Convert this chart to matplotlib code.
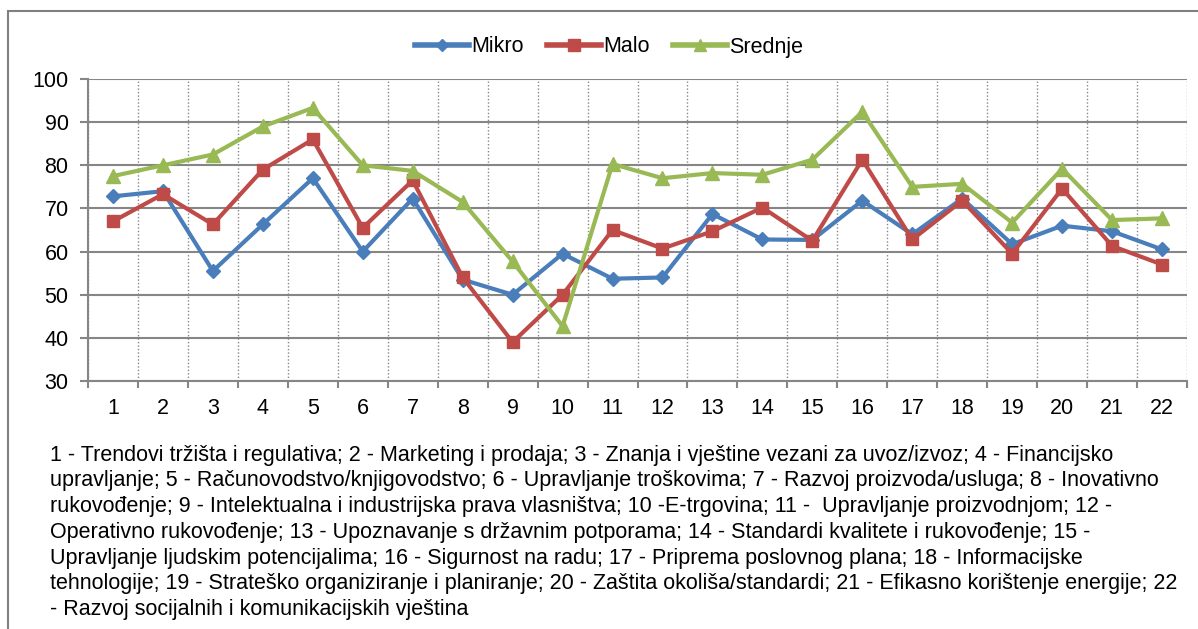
import matplotlib.pyplot as plt
from matplotlib.lines import Line2D
from matplotlib.patches import Rectangle

plt.rcParams['font.family'] = ['Liberation Sans', 'DejaVu Sans']

categories = list(range(1, 23))
mikro = [72.8, 74.0, 55.5, 66.3, 77.0, 60.0, 72.3, 53.5, 50.0, 59.5, 53.7,
         54.0, 68.7, 62.8, 62.7, 71.8, 64.0, 72.3, 61.7, 66.0, 64.7, 60.5]
malo = [67.0, 73.3, 66.3, 79.0, 86.0, 65.5, 76.5, 54.0, 39.0, 50.0, 65.0,
        60.7, 64.7, 70.2, 62.5, 81.3, 62.8, 71.8, 59.5, 74.6, 61.3, 57.0]
srednje = [77.5, 80.0, 82.5, 89.0, 93.3, 80.0, 78.7, 71.5, 57.7, 42.7, 80.3,
           77.0, 78.2, 77.8, 81.3, 92.4, 75.0, 75.7, 66.7, 79.2, 67.3, 67.7]

notes = [
    "1 - Trendovi tržišta i regulativa; 2 - Marketing i prodaja; 3 - Znanja i vještine vezani za uvoz/izvoz; 4 - Financijsko",
    "upravljanje; 5 - Računovodstvo/knjigovodstvo; 6 - Upravljanje troškovima; 7 - Razvoj proizvoda/usluga; 8 - Inovativno",
    "rukovođenje; 9 - Intelektualna i industrijska prava vlasništva; 10 -E-trgovina; 11 -  Upravljanje proizvodnjom; 12 -",
    "Operativno rukovođenje; 13 - Upoznavanje s državnim potporama; 14 - Standardi kvalitete i rukovođenje; 15 -",
    "Upravljanje ljudskim potencijalima; 16 - Sigurnost na radu; 17 - Priprema poslovnog plana; 18 - Informacijske",
    "tehnologije; 19 - Strateško organiziranje i planiranje; 20 - Zaštita okoliša/standardi; 21 - Efikasno korištenje energije; 22",
    "- Razvoj socijalnih i komunikacijskih vještina",
]

blue = '#4A7EBB'
red = '#BE4B48'
green = '#98B954'
grid = '#868686'

W, H = 1198, 629
fig = plt.figure(figsize=(W / 100, H / 100), dpi=100)
fig.patches.append(Rectangle((8 / W, -0.1), 1.2, 1.1 - 11 / H, transform=fig.transFigure,
                             fill=False, edgecolor='#808080', linewidth=1.5))

ax = fig.add_axes([88 / W, 1 - 381 / H, (1187 - 88) / W, (381 - 79) / H])

ax.plot(categories, mikro, color=blue, lw=3, marker='D', ms=7, label='Mikro', zorder=3)
ax.plot(categories, malo, color=red, lw=3, marker='s', ms=9, label='Malo', zorder=4)
ax.plot(categories, srednje, color=green, lw=3, marker='^', ms=10, label='Srednje', zorder=5)

ax.set_xlim(0.5, 22.5)
ax.set_ylim(30, 100)
ax.set_yticks(range(30, 101, 10))
ax.set_xticks(categories)
ax.set_xticks([c + 0.5 for c in [0] + categories], minor=True)
ax.tick_params(axis='x', which='major', length=0, pad=12, labelsize=15.5)
ax.tick_params(axis='x', which='minor', length=5, color=grid, width=1.5)
ax.tick_params(axis='y', length=6, color=grid, width=1.5, labelsize=15.5, pad=8)

ax.yaxis.grid(True, color=grid, lw=1.5)
ax.xaxis.grid(True, which='minor', color=grid, lw=1, ls=(0, (1, 1.5)))
ax.set_axisbelow(True)
for side in ['top', 'right']:
    ax.spines[side].set_visible(False)
for side in ['left', 'bottom']:
    ax.spines[side].set_color(grid)
    ax.spines[side].set_linewidth(1.5)

handles = [Line2D([], [], color=blue, lw=4, marker='D', ms=6),
           Line2D([], [], color=red, lw=4, marker='s', ms=8),
           Line2D([], [], color=green, lw=4, marker='^', ms=8)]
fig.legend(handles, ['Mikro', 'Malo', 'Srednje'], loc='center', bbox_to_anchor=(609 / W, 1 - 47 / H),
           ncol=3, frameon=False, fontsize=15.5, handlelength=2.5, handletextpad=0.1,
           columnspacing=1.1)

for i, line in enumerate(notes):
    fig.text(50 / W, 1 - (455 + 25.8 * i) / H, line, fontsize=15.5, va='center', ha='left')

fig.savefig('out.png', dpi=100)
